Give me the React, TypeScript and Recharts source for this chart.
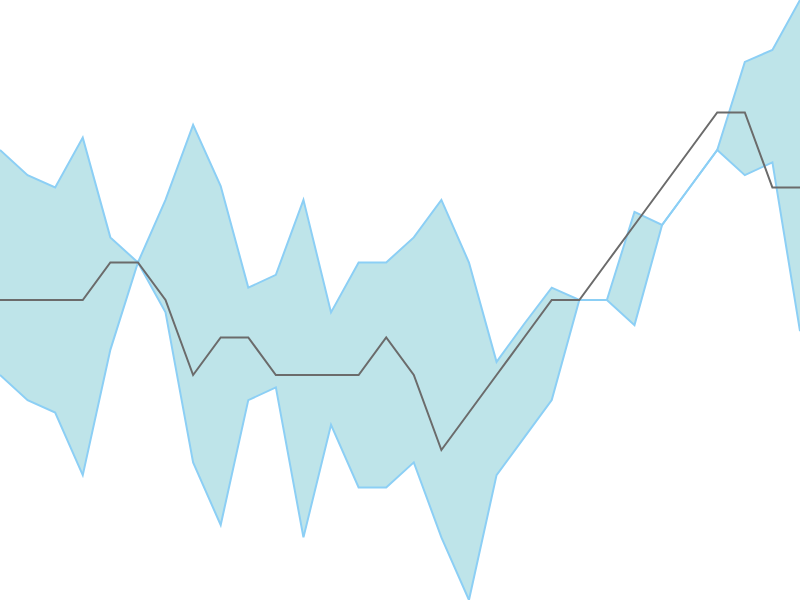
import React from "react";
import { ComposedChart, Area, Line, XAxis, YAxis } from "recharts";

const categories: string[] = Array.from({ length: 30 }, (_, i) => `P${i + 1}`);

const upperValues: number[] = [
  12, 11.33, 11, 12.33, 9.67, 9, 10.67, 12.67, 11.04, 8.33,
  8.67, 10.67, 7.67, 9, 9, 9.67, 10.67, 9, 6.35, 7.36,
  8.33, 8, 8, 10.35, 10, 11, 12, 14.35, 14.67, 16,
];

const lowerValues: number[] = [
  6, 5.33, 5, 3.33, 6.67, 9, 7.67, 3.67, 2, 5.33,
  5.67, 1.67, 4.67, 3, 3, 3.67, 1.67, 0, 3.33, 4.33,
  5.33, 8, 8, 7.33, 10, 11, 12, 11.33, 11.67, 7.17,
];

const lineValues: number[] = [
  8, 8, 8, 8, 9, 9, 8, 6, 7, 7,
  6, 6, 6, 6, 7, 6, 4, 5, 6, 7,
  8, 8, 9, 10, 11, 12, 13, 13, 11, 11,
];

const data = categories.map((name, i) => ({
  name,
  range: [lowerValues[i], upperValues[i]] as [number, number],
  value: lineValues[i],
}));

export default function App() {
  return (
    <div style={{ position: "fixed", left: 0, top: 0, width: 800, height: 600, background: "#fff" }}>
      <ComposedChart width={800} height={600} data={data} margin={{ top: 0, right: 0, bottom: 0, left: 0 }}>
        <XAxis dataKey="name" hide padding={{ left: 0, right: 0 }} />
        <YAxis hide domain={[0, 16]} allowDataOverflow />
        <Area
          type="linear"
          dataKey="range"
          stroke="#8ccff5"
          strokeWidth={2}
          fill="#bee4e9"
          fillOpacity={1}
          isAnimationActive={false}
          dot={false}
          activeDot={false}
        />
        <Line
          type="linear"
          dataKey="value"
          stroke="#6b6b6b"
          strokeWidth={2}
          dot={false}
          activeDot={false}
          isAnimationActive={false}
        />
      </ComposedChart>
    </div>
  );
}
